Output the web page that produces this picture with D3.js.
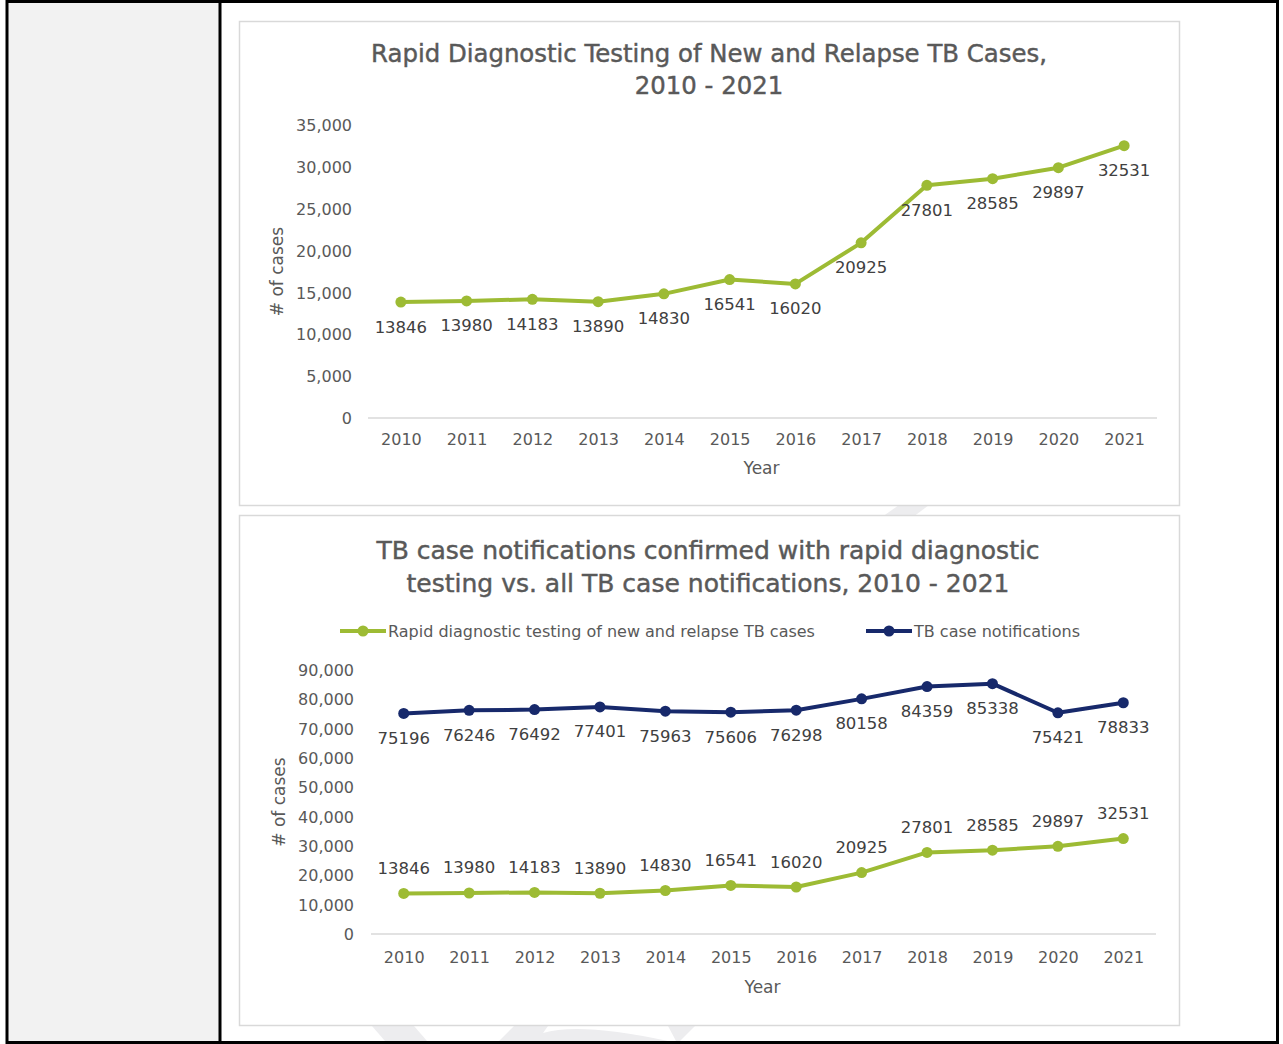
<!DOCTYPE html>
<html>
<head>
<meta charset="utf-8">
<script src="https://cdn.jsdelivr.net/npm/d3@7"></script>
<style>
  html, body { margin: 0; padding: 0; background: #ffffff; }
  svg { display: block; }
</style>
</head>
<body>
<svg id="chart" width="1283" height="1044"></svg>
<script>
// ---------- data ----------
const years = ["2010","2011","2012","2013","2014","2015","2016","2017","2018","2019","2020","2021"];
const rapidTesting = [13846, 13980, 14183, 13890, 14830, 16541, 16020, 20925, 27801, 28585, 29897, 32531];
const caseNotifications = [75196, 76246, 76492, 77401, 75963, 75606, 76298, 80158, 84359, 85338, 75421, 78833];
const topTicks = [0, 5000, 10000, 15000, 20000, 25000, 30000, 35000];
const bottomTicks = [0, 10000, 20000, 30000, 40000, 50000, 60000, 70000, 80000, 90000];
const topTitle = ["Rapid Diagnostic Testing of New and Relapse TB Cases,", "2010 - 2021"];
const bottomTitle = ["TB case notifications confirmed with rapid diagnostic", "testing vs. all TB case notifications, 2010 - 2021"];
const seriesNames = ["Rapid diagnostic testing of new and relapse TB cases", "TB case notifications"];

// ---------- styles ----------
const GREEN = "#9dbb34";
const NAVY = "#17296b";
const TEXT = "#595959";
const LABEL = "#404040";
const FONT = "'DejaVu Sans', 'Liberation Sans', sans-serif";
const fmt = d3.format(",");

const svg = d3.select("#chart");

// page frame
svg.append("rect").attr("x", 0).attr("y", 0).attr("width", 1283).attr("height", 1044).attr("fill", "#ffffff");
svg.append("rect").attr("x", 8).attr("y", 3).attr("width", 212).attr("height", 1038).attr("fill", "#f2f2f2");

// faint watermark fragments
const wm = svg.append("g").attr("fill", "#ededef");
wm.append("path").attr("d", "M899,505 L929,505 L913,517 L882,517 Z");
wm.append("path").attr("d", "M372,1026 L414,1026 L427,1041 L385,1041 Z");
wm.append("path").attr("d", "M514,1026 L548,1026 L543,1033 Q580,1022 668,1041 L499,1041 Z");
wm.append("path").attr("d", "M668,1026 L695,1026 L680,1041 L676,1041 Z");

// chart boxes
[[239, 21, 940, 484], [239, 515, 940, 510]].forEach(b => {
  svg.append("rect").attr("x", b[0] + 0.5).attr("y", b[1] + 0.5).attr("width", b[2]).attr("height", b[3])
    .attr("fill", "#ffffff").attr("stroke", "#d9d9d9").attr("stroke-width", 1.5);
});

// black borders
svg.append("line").attr("x1", 7).attr("x2", 7).attr("y1", 0).attr("y2", 1044).attr("stroke", "#000").attr("stroke-width", 3);
svg.append("line").attr("x1", 220).attr("x2", 220).attr("y1", 0).attr("y2", 1044).attr("stroke", "#000").attr("stroke-width", 3);
svg.append("line").attr("x1", 1277.5).attr("x2", 1277.5).attr("y1", 0).attr("y2", 1044).attr("stroke", "#000").attr("stroke-width", 3);
svg.append("line").attr("x1", 7).attr("x2", 1279).attr("y1", 1.5).attr("y2", 1.5).attr("stroke", "#000").attr("stroke-width", 3);
svg.append("line").attr("x1", 7).attr("x2", 1279).attr("y1", 1042.5).attr("y2", 1042.5).attr("stroke", "#000").attr("stroke-width", 3);

function drawChart(cfg) {
  const g = svg.append("g");
  const x = d3.scalePoint().domain(years).range([cfg.left, cfg.right]).padding(0.5);
  const y = d3.scaleLinear().domain([0, cfg.ymax]).range([cfg.bottom, cfg.top]);

  // title
  cfg.title.forEach((t, i) => {
    g.append("text").attr("x", cfg.titleX).attr("y", cfg.titleY + i * cfg.titleGap)
      .attr("text-anchor", "middle").attr("dominant-baseline", "central")
      .attr("font-family", FONT).attr("font-size", cfg.titleSize).attr("fill", TEXT)
      .attr("stroke", TEXT).attr("stroke-width", 0.45).text(t);
  });

  // y axis
  const ya = g.append("g").attr("transform", `translate(${cfg.left},0)`)
    .call(d3.axisLeft(y).tickValues(cfg.ticks).tickSize(0).tickPadding(cfg.tickPad).tickFormat(fmt));
  ya.select(".domain").remove();
  ya.selectAll("text").attr("font-family", FONT).attr("font-size", 16).attr("fill", TEXT).attr("dy", "0.35em");

  // baseline
  g.append("line").attr("x1", cfg.left).attr("x2", cfg.right).attr("y1", y(0)).attr("y2", y(0))
    .attr("stroke", "#d9d9d9").attr("stroke-width", 1.5);

  // x axis
  const xa = g.append("g").attr("transform", `translate(0,${y(0)})`)
    .call(d3.axisBottom(x).tickSize(0).tickPadding(cfg.xPad));
  xa.select(".domain").remove();
  xa.selectAll("text").attr("font-family", FONT).attr("font-size", 16).attr("fill", TEXT);

  // axis titles
  g.append("text").attr("x", (cfg.left + cfg.right) / 2 - 1).attr("y", cfg.yearY)
    .attr("text-anchor", "middle").attr("dominant-baseline", "central")
    .attr("font-family", FONT).attr("font-size", 17).attr("fill", TEXT).text("Year");
  g.append("text").attr("transform", `translate(${cfg.yTitleX},${(cfg.top + cfg.bottom) / 2}) rotate(-90)`)
    .attr("text-anchor", "middle").attr("dominant-baseline", "central")
    .attr("font-family", FONT).attr("font-size", 17).attr("fill", TEXT).text("# of cases");

  // series
  const line = d3.line().x((d, i) => x(years[i])).y(d => y(d));
  cfg.series.forEach(s => {
    g.append("path").datum(s.values).attr("d", line).attr("fill", "none")
      .attr("stroke", s.color).attr("stroke-width", 4).attr("stroke-linejoin", "round").attr("stroke-linecap", "round");
    g.selectAll(null).data(s.values).enter().append("circle")
      .attr("cx", (d, i) => x(years[i])).attr("cy", d => y(d)).attr("r", 5.5).attr("fill", s.color);
    g.selectAll(null).data(s.values).enter().append("text")
      .attr("x", (d, i) => x(years[i])).attr("y", d => y(d) + s.labelOffset)
      .attr("text-anchor", "middle").attr("dominant-baseline", "central")
      .attr("font-family", FONT).attr("font-size", 16.5).attr("fill", LABEL).text(d => d);
  });
  return { x, y, g };
}

// top chart
drawChart({
  left: 368, right: 1157, top: 125, bottom: 418, ymax: 35000, ticks: topTicks,
  tickPad: 16, xPad: 16, yearY: 468, yTitleX: 277,
  title: topTitle, titleX: 709, titleY: 53, titleGap: 32, titleSize: 24.4,
  series: [{ values: rapidTesting, color: GREEN, labelOffset: 25 }]
});

// bottom chart
drawChart({
  left: 371, right: 1156, top: 670, bottom: 934, ymax: 90000, ticks: bottomTicks,
  tickPad: 17, xPad: 18, yearY: 987, yTitleX: 279,
  title: bottomTitle, titleX: 708, titleY: 550, titleGap: 33, titleSize: 25,
  series: [
    { values: rapidTesting, color: GREEN, labelOffset: -25 },
    { values: caseNotifications, color: NAVY, labelOffset: 25 }
  ]
});

// legend
const legend = svg.append("g");
const legendItems = [
  { name: seriesNames[0], color: GREEN, x: 340 },
  { name: seriesNames[1], color: NAVY, x: 866 }
];
legendItems.forEach(it => {
  legend.append("line").attr("x1", it.x).attr("x2", it.x + 46).attr("y1", 631).attr("y2", 631)
    .attr("stroke", it.color).attr("stroke-width", 4);
  legend.append("circle").attr("cx", it.x + 23).attr("cy", 631).attr("r", 5.5).attr("fill", it.color);
  legend.append("text").attr("x", it.x + 48).attr("y", 631).attr("dominant-baseline", "central")
    .attr("font-family", FONT).attr("font-size", 16).attr("fill", TEXT).text(it.name);
});
</script>
</body>
</html>
